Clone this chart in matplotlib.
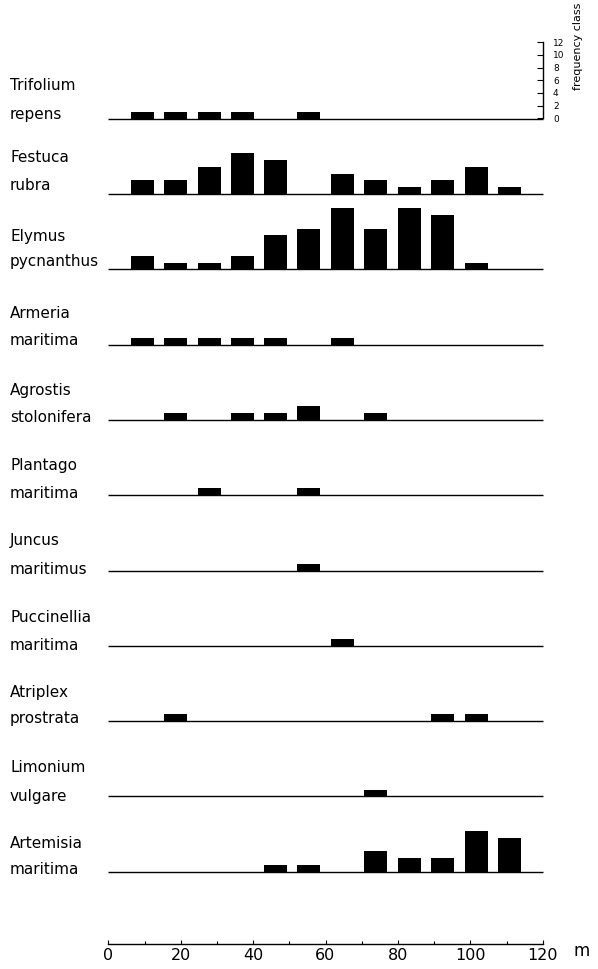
import matplotlib.pyplot as plt
import numpy as np

# sampling stations along the transect (m)
stations = [9.5, 18.6, 27.9, 37.1, 46.3, 55.4, 64.7, 73.9, 83.1, 92.3, 101.6, 110.9]

genus = ["Trifolium", "Festuca", "Elymus", "Armeria", "Agrostis", "Plantago",
         "Juncus", "Puccinellia", "Atriplex", "Limonium", "Artemisia"]
epithet = ["repens", "rubra", "pycnanthus", "maritima", "stolonifera", "maritima",
           "maritimus", "maritima", "prostrata", "vulgare", "maritima"]

# frequency class per station
trifolium = [1, 1, 1, 1, 0, 1, 0, 0, 0, 0, 0, 0]
festuca = [2, 2, 4, 6, 5, 0, 3, 2, 1, 2, 4, 1]
elymus = [2, 1, 1, 2, 5, 6, 9, 6, 9, 8, 1, 0]
armeria = [1, 1, 1, 1, 1, 0, 1, 0, 0, 0, 0, 0]
agrostis = [0, 1, 0, 1, 1, 2, 0, 1, 0, 0, 0, 0]
plantago = [0, 0, 1, 0, 0, 1, 0, 0, 0, 0, 0, 0]
juncus = [0, 0, 0, 0, 0, 1, 0, 0, 0, 0, 0, 0]
puccinellia = [0, 0, 0, 0, 0, 0, 1, 0, 0, 0, 0, 0]
atriplex = [0, 1, 0, 0, 0, 0, 0, 0, 0, 1, 1, 0]
limonium = [0, 0, 0, 0, 0, 0, 0, 1, 0, 0, 0, 0]
artemisia = [0, 0, 0, 0, 1, 1, 0, 3, 2, 2, 6, 5]

rows = [trifolium, festuca, elymus, armeria, agrostis, plantago,
        juncus, puccinellia, atriplex, limonium, artemisia]

distance_ticks = [0, 20, 40, 60, 80, 100, 120]
class_ticks = [0, 2, 4, 6, 8, 10, 12]

W, H = 598, 969
fig = plt.figure(figsize=(W / 100, H / 100), dpi=100)
plt.rcParams["font.family"] = ["DejaVu Sans"]

x_left, x_right = 108.3, 542.7      # pixel span of 0..120 m
first_base, row_step = 118.7, 75.3  # baseline of first row, spacing
unit = 6.8                          # pixels per frequency class
panel_h = 70

# label centres (px from top) for the two name lines
genus_y = [85, 157, 237, 314, 390, 466, 541, 618, 693, 768, 844]
epithet_y = [115, 186, 262, 341, 418, 494, 569, 645, 718, 796, 870]


def px_axes(left, top, width, height):
    return fig.add_axes([left / W, 1 - (top + height) / H, width / W, height / H])


for i, vals in enumerate(rows):
    base = first_base + i * row_step
    ax = px_axes(x_left, base - panel_h, x_right - x_left, panel_h)
    ax.set_xlim(0, 120)
    ax.set_ylim(0, panel_h / unit)
    ax.axis("off")
    ax.plot([0, 120], [0, 0], color="black", lw=1.0, solid_capstyle="butt",
            clip_on=False)
    ax.bar(stations, vals, width=6.35, color="black", linewidth=0)

    fig.text(10 / W, 1 - genus_y[i] / H, genus[i], fontsize=11,
             va="center", ha="left")
    fig.text(10 / W, 1 - epithet_y[i] / H, epithet[i], fontsize=11,
             va="center", ha="left")

# frequency class scale, top right
sc = px_axes(x_right, 42.3, 0.5, 118.3 - 42.3)
sc.set_ylim(0, 12)
sc.set_xticks([])
for s in ["top", "bottom", "right"]:
    sc.spines[s].set_visible(False)
sc.spines["left"].set_linewidth(1.0)
sc.set_yticks(class_ticks)
sc.set_yticklabels([str(t) for t in class_ticks])
sc.tick_params(axis="y", left=True, right=False, labelleft=False,
               labelright=True, direction="out", length=4, width=0.8,
               labelsize=6.5, pad=3)
fig.text(578 / W, 1 - 90 / H, "frequency class", rotation=90,
         fontsize=8, ha="center", va="bottom")

# distance axis
ax_m = px_axes(x_left, 934, x_right - x_left, 10)
ax_m.set_xlim(0, 120)
ax_m.set_yticks([])
for s in ["top", "left", "right"]:
    ax_m.spines[s].set_visible(False)
ax_m.spines["bottom"].set_linewidth(1.0)
ax_m.set_xticks(distance_ticks)
ax_m.set_xticks(np.arange(10, 120, 20), minor=True)
ax_m.tick_params(axis="x", which="major", direction="in", length=3,
                 width=0.8, labelsize=11.5, pad=3)
ax_m.tick_params(axis="x", which="minor", direction="in", length=2, width=0.8)
fig.text(582 / W, 1 - 951 / H, "m", fontsize=12, ha="center", va="center")

fig.savefig("out.png", dpi=100)
